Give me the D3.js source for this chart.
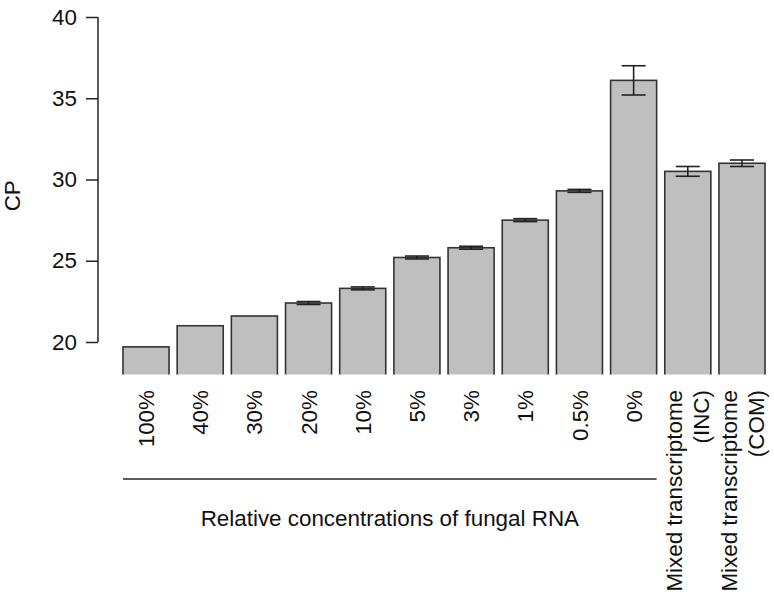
<!DOCTYPE html>
<html>
<head>
<meta charset="utf-8">
<script src="https://cdn.jsdelivr.net/npm/d3@7"></script>
<style>
  html, body { margin: 0; padding: 0; background: #fff; }
  svg { display: block; font-family: "Liberation Sans", Arial, sans-serif; }
</style>
</head>
<body>
<svg id="chart" width="774" height="594"></svg>
<script>
// ---- data ----
const categories = ["100%", "40%", "30%", "20%", "10%", "5%", "3%", "1%", "0.5%", "0%", "Mixed transcriptome\n(INC)", "Mixed transcriptome\n(COM)"];
const cpValues = [19.7, 21.0, 21.6, 22.4, 23.3, 25.2, 25.8, 27.5, 29.3, 36.1, 30.5, 31.0];
const cpErrors = [0, 0, 0, 0.09, 0.09, 0.09, 0.09, 0.09, 0.09, 0.9, 0.3, 0.2];
const yTicks = [20, 25, 30, 35, 40];
const groupLabel = "Relative concentrations of fungal RNA";
const groupCount = 10;
const yTitle = "CP";

// ---- layout ----
const svg = d3.select("#chart");
const fs = 22.4;
const ink = "#222";

const y = d3.scaleLinear().domain([18, 40]).range([374.5, 17]);
const x = d3.scaleBand().domain(categories).range([123, 765]).paddingInner(0.15).paddingOuter(0);

// clip bars to plot region
svg.append("defs").append("clipPath").attr("id", "plotclip")
  .append("rect").attr("x", 100).attr("y", 0).attr("width", 674).attr("height", y(18));

const barsG = svg.append("g").attr("clip-path", "url(#plotclip)");
barsG.selectAll("rect.bar").data(categories).enter().append("rect")
  .attr("class", "bar")
  .attr("x", d => x(d))
  .attr("width", x.bandwidth())
  .attr("y", (d, i) => y(cpValues[i]))
  .attr("height", (d, i) => y(0) - y(cpValues[i]))
  .attr("fill", "#bfbfbf")
  .attr("stroke", "#333")
  .attr("stroke-width", 1.6);

// error bars
const capHalf = 12;
const errG = svg.append("g").attr("stroke", ink).attr("stroke-width", 1.6).attr("fill", "none");
categories.forEach((c, i) => {
  const e = cpErrors[i];
  if (!e) return;
  const cx = x(c) + x.bandwidth() / 2;
  const yl = y(cpValues[i] - e), yh = y(cpValues[i] + e);
  errG.append("line").attr("x1", cx).attr("x2", cx).attr("y1", yl).attr("y2", yh);
  errG.append("line").attr("x1", cx - capHalf).attr("x2", cx + capHalf).attr("y1", yl).attr("y2", yl);
  errG.append("line").attr("x1", cx - capHalf).attr("x2", cx + capHalf).attr("y1", yh).attr("y2", yh);
});

// y axis
const yAxis = d3.axisLeft(y).tickValues(yTicks).tickSize(12).tickPadding(9).tickSizeOuter(0);
const yAxisG = svg.append("g").attr("transform", "translate(98,0)").call(yAxis);
yAxisG.select(".domain").attr("stroke", ink).attr("stroke-width", 1.5)
  .attr("d", `M0,${y(40)}V${y(20)}`);
yAxisG.selectAll(".tick line").attr("stroke", ink).attr("stroke-width", 1.5);
yAxisG.selectAll(".tick text").attr("font-size", fs).attr("fill", "#111")
  .attr("font-family", "Liberation Sans, Arial, sans-serif");

// y title
svg.append("text")
  .attr("transform", `translate(20,${(y(40) + y(18)) / 2}) rotate(-90)`)
  .attr("text-anchor", "middle")
  .attr("font-size", fs).attr("fill", "#111")
  .text(yTitle);

// x category labels (rotated)
const lineGap = 27;
categories.forEach(c => {
  const lines = c.split("\n");
  const cx = x(c) + x.bandwidth() / 2;
  lines.forEach((ln, j) => {
    const off = (j - (lines.length - 1) / 2) * lineGap;
    svg.append("text")
      .attr("transform", `translate(${cx + off},390) rotate(-90)`)
      .attr("text-anchor", "end")
      .attr("dy", "0.36em")
      .attr("font-size", fs).attr("fill", "#111")
      .text(ln);
  });
});

// group bracket line
const gx0 = x(categories[0]);
const gx1 = x(categories[groupCount - 1]) + x.bandwidth();
svg.append("line")
  .attr("x1", gx0).attr("x2", gx1).attr("y1", 479).attr("y2", 479)
  .attr("stroke", ink).attr("stroke-width", 1.6);

svg.append("text")
  .attr("x", (gx0 + gx1) / 2).attr("y", 526)
  .attr("text-anchor", "middle")
  .attr("font-size", fs).attr("fill", "#111")
  .text(groupLabel);
</script>
</body>
</html>
